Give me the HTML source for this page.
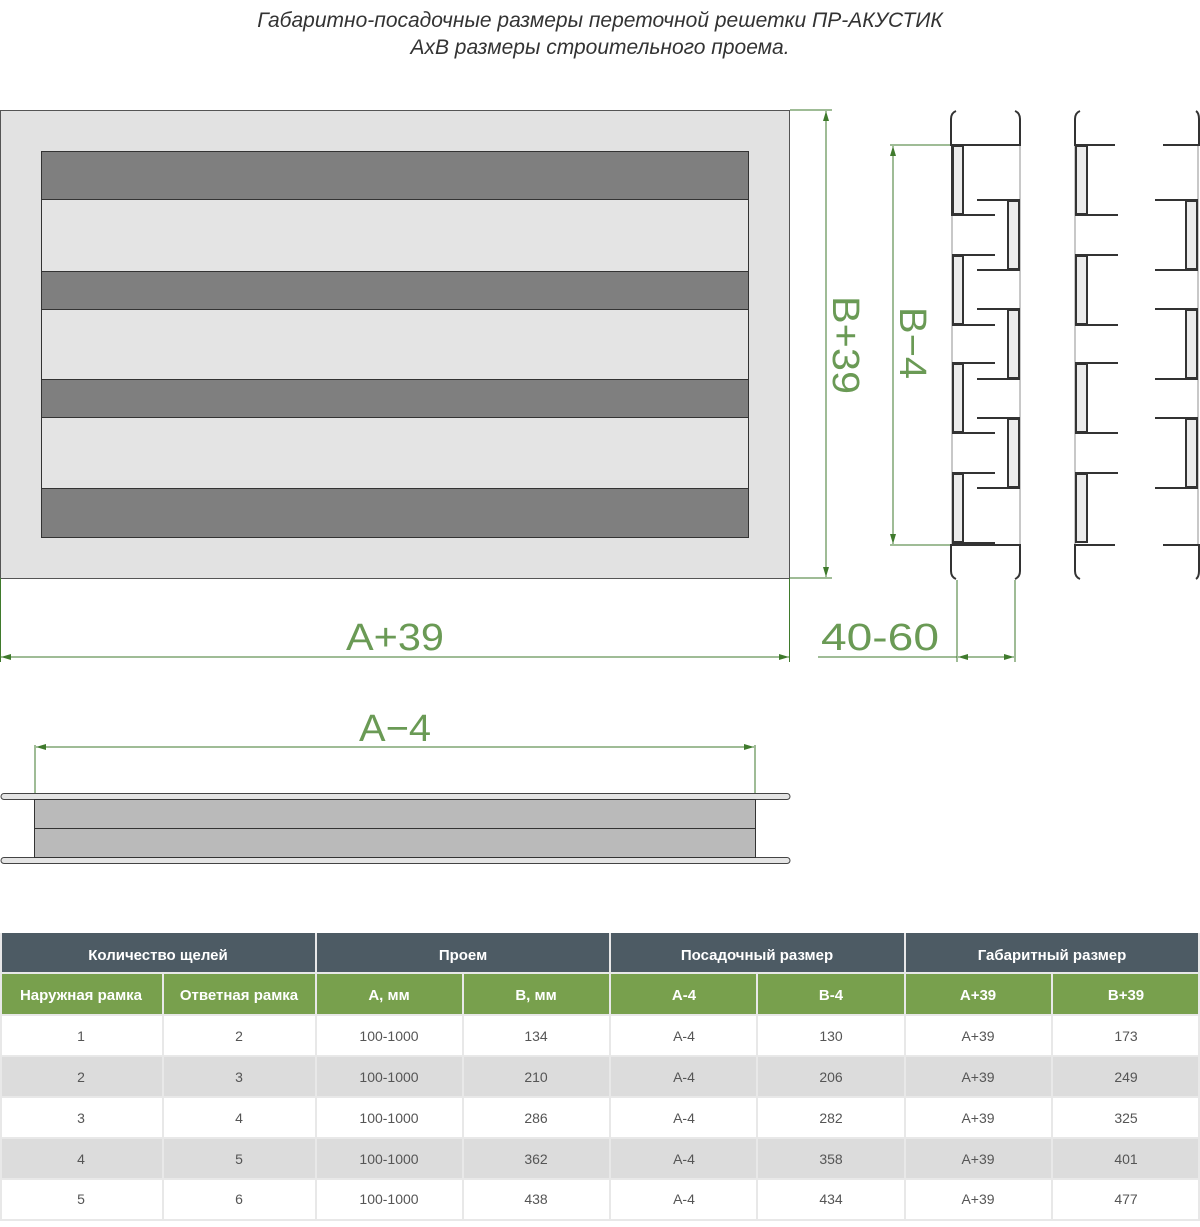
<!DOCTYPE html>
<html><head><meta charset="utf-8"><style>
html,body{margin:0;padding:0;background:#fff}
svg{display:block}
.t{font-family:"Liberation Sans","DejaVu Sans",sans-serif}
</style></head><body>
<svg width="1200" height="1227" viewBox="0 0 1200 1227" xmlns="http://www.w3.org/2000/svg">
<defs>
<marker id="ar" viewBox="0 0 10 6" refX="10" refY="3" markerWidth="14" markerHeight="6" orient="auto-start-reverse" markerUnits="userSpaceOnUse"><path d="M0,0 L10,3 L0,6z" fill="#3f7a2c"/></marker>
</defs>
<g class="t" font-style="italic" font-size="21" fill="#333" text-anchor="middle">
<text x="600" y="27">Габаритно-посадочные размеры переточной решетки ПР-АКУСТИК</text>
<text x="600" y="54">АхВ размеры строительного проема.</text>
</g>

<!-- front view -->
<rect x="0.5" y="110.5" width="789" height="468" fill="#e2e2e2" stroke="#555" stroke-width="1"/>
<rect x="41.5" y="151.5" width="707" height="386" fill="#e4e4e4" stroke="#333" stroke-width="1"/>
<g fill="#7f7f7f" stroke="#333" stroke-width="1">
<rect x="41.5" y="151.5" width="707" height="48"/>
<rect x="41.5" y="271.5" width="707" height="38"/>
<rect x="41.5" y="379.5" width="707" height="38"/>
<rect x="41.5" y="488.5" width="707" height="49"/>
</g>

<!-- dimensions -->
<g stroke="#3f7a2c" stroke-width="1" fill="none">
<line x1="790" y1="110" x2="832" y2="110"/><line x1="790" y1="578" x2="832" y2="578"/>
<line x1="826" y1="111" x2="826" y2="577" marker-start="url(#ar)" marker-end="url(#ar)"/>
<line x1="0.5" y1="578" x2="0.5" y2="662"/><line x1="789.5" y1="578" x2="789.5" y2="662"/>
<line x1="1" y1="657" x2="789" y2="657" marker-start="url(#ar)" marker-end="url(#ar)"/>
<line x1="818" y1="657" x2="957" y2="657"/>
<line x1="957" y1="580" x2="957" y2="662"/><line x1="1015" y1="580" x2="1015" y2="662"/>
<line x1="958" y1="657" x2="975" y2="657" marker-start="url(#ar)"/>
<line x1="975" y1="657" x2="1014" y2="657" marker-end="url(#ar)"/>
<line x1="890" y1="145" x2="950" y2="145"/><line x1="890" y1="545" x2="950" y2="545"/>
<line x1="893" y1="146" x2="893" y2="544" marker-start="url(#ar)" marker-end="url(#ar)"/>
<line x1="35" y1="745" x2="35" y2="800"/><line x1="755" y1="745" x2="755" y2="800"/>
<line x1="36" y1="747" x2="754" y2="747" marker-start="url(#ar)" marker-end="url(#ar)"/>
</g>
<g class="t" fill="#6a9a55" font-size="38" text-anchor="middle" font-weight="normal">
<text x="395" y="650" textLength="98" lengthAdjust="spacingAndGlyphs">A+39</text>
<text x="880" y="650" textLength="118" lengthAdjust="spacingAndGlyphs">40-60</text>
<text x="395" y="741" textLength="72" lengthAdjust="spacingAndGlyphs">A−4</text>
<text transform="translate(833,345) rotate(90)" textLength="98" lengthAdjust="spacingAndGlyphs">B+39</text>
<text transform="translate(900,343) rotate(90)" textLength="72" lengthAdjust="spacingAndGlyphs">B−4</text>
</g>

<!-- side cross section -->
<g stroke="#c8c8c8" stroke-width="2">
<line x1="952" y1="145" x2="952" y2="545"/><line x1="1020" y1="145" x2="1020" y2="545"/>
<line x1="1075" y1="145" x2="1075" y2="545"/><line x1="1198" y1="145" x2="1198" y2="545"/>
</g>
<g stroke="#333" stroke-width="2" fill="none">
<!-- caps -->
<path d="M956,111 q-5,2 -5,8 v26 h69 v-26 q0,-6 -5,-8"/>
<path d="M956,579 q-5,-2 -5,-8 v-26 h69 v26 q0,6 -5,8"/>
<path d="M1080,111 q-5,2 -5,8 v26 h40"/>
<path d="M1080,579 q-5,-2 -5,-8 v-26 h40"/>
<path d="M1196,111 q3,2 3,8 v26 h-36"/>
<path d="M1196,579 q3,-2 3,-8 v-26 h-36"/>
</g>
<g fill="#ececec" stroke="#333" stroke-width="2">
<!-- left piece left channels -->
<path d="M952,145 h43 M963,145 v70 M952,145 v70 h43" fill="none"/>
<rect x="953" y="146" width="10" height="68"/>
<rect x="953" y="256" width="10" height="68"/>
<rect x="953" y="364" width="10" height="68"/>
<rect x="953" y="474" width="10" height="68"/>
<rect x="1008" y="201" width="11" height="68"/>
<rect x="1008" y="310" width="11" height="68"/>
<rect x="1008" y="419" width="11" height="68"/>
<rect x="1076" y="146" width="11" height="68"/>
<rect x="1076" y="256" width="11" height="68"/>
<rect x="1076" y="364" width="11" height="68"/>
<rect x="1076" y="474" width="11" height="68"/>
<rect x="1186" y="201" width="11" height="68"/>
<rect x="1186" y="310" width="11" height="68"/>
<rect x="1186" y="419" width="11" height="68"/>
</g>
<g stroke="#333" stroke-width="2">
<!-- arms left piece -->
<line x1="952" y1="215" x2="995" y2="215"/>
<line x1="952" y1="255" x2="995" y2="255"/><line x1="952" y1="325" x2="995" y2="325"/>
<line x1="952" y1="363" x2="995" y2="363"/><line x1="952" y1="433" x2="995" y2="433"/>
<line x1="952" y1="473" x2="995" y2="473"/><line x1="952" y1="543" x2="995" y2="543"/>
<line x1="977" y1="200" x2="1020" y2="200"/><line x1="977" y1="270" x2="1020" y2="270"/>
<line x1="977" y1="309" x2="1020" y2="309"/><line x1="977" y1="379" x2="1020" y2="379"/>
<line x1="977" y1="418" x2="1020" y2="418"/><line x1="977" y1="488" x2="1020" y2="488"/>
<!-- middle -->
<line x1="1075" y1="215" x2="1118" y2="215"/>
<line x1="1075" y1="255" x2="1118" y2="255"/><line x1="1075" y1="325" x2="1118" y2="325"/>
<line x1="1075" y1="363" x2="1118" y2="363"/><line x1="1075" y1="433" x2="1118" y2="433"/>
<line x1="1075" y1="473" x2="1118" y2="473"/>
<!-- right -->
<line x1="1155" y1="200" x2="1198" y2="200"/><line x1="1155" y1="270" x2="1198" y2="270"/>
<line x1="1155" y1="309" x2="1198" y2="309"/><line x1="1155" y1="379" x2="1198" y2="379"/>
<line x1="1155" y1="418" x2="1198" y2="418"/><line x1="1155" y1="488" x2="1198" y2="488"/>
</g>

<!-- bottom view -->
<rect x="1" y="793.5" width="789" height="6" rx="3" fill="#e4e4e4" stroke="#444" stroke-width="1"/>
<rect x="1" y="857.5" width="789" height="6" rx="3" fill="#e4e4e4" stroke="#444" stroke-width="1"/>
<rect x="34.5" y="799.5" width="721" height="58" fill="#bababa" stroke="#333" stroke-width="1"/>
<line x1="34" y1="828.5" x2="756" y2="828.5" stroke="#333"/>

<!-- table -->
<g>
<rect x="0" y="933" width="1200" height="40" fill="#4d5b64"/>
<rect x="0" y="973" width="1200" height="42" fill="#78a04d"/>
<rect x="0" y="1015" width="1200" height="41" fill="#fff"/>
<rect x="0" y="1056" width="1200" height="41" fill="#dcdcdc"/>
<rect x="0" y="1097" width="1200" height="41" fill="#fff"/>
<rect x="0" y="1138" width="1200" height="41" fill="#dcdcdc"/>
<rect x="0" y="1179" width="1200" height="41" fill="#fff"/>
<g stroke="#e8e8e8" stroke-width="2">
<line x1="316" y1="933" x2="316" y2="1220"/><line x1="610" y1="933" x2="610" y2="1220"/><line x1="905" y1="933" x2="905" y2="1220"/>
<line x1="163" y1="973" x2="163" y2="1220"/><line x1="463" y1="973" x2="463" y2="1220"/><line x1="757" y1="973" x2="757" y2="1220"/><line x1="1052" y1="973" x2="1052" y2="1220"/>
<line x1="0" y1="973" x2="1200" y2="973"/><line x1="0" y1="1015" x2="1200" y2="1015"/>
<line x1="0" y1="1056" x2="1200" y2="1056"/><line x1="0" y1="1097" x2="1200" y2="1097"/><line x1="0" y1="1138" x2="1200" y2="1138"/><line x1="0" y1="1179" x2="1200" y2="1179"/>
<line x1="0" y1="1220" x2="1200" y2="1220"/><line x1="1" y1="933" x2="1" y2="1220"/><line x1="1199" y1="933" x2="1199" y2="1220"/>
</g>
<g class="t" fill="#fff" font-size="15" font-weight="bold" text-anchor="middle">
<text x="158" y="960">Количество щелей</text><text x="463" y="960">Проем</text><text x="757" y="960">Посадочный размер</text><text x="1052" y="960">Габаритный размер</text>
<text x="81" y="1000">Наружная рамка</text><text x="239" y="1000">Ответная рамка</text><text x="389" y="1000">А, мм</text><text x="536" y="1000">В, мм</text>
<text x="684" y="1000">А-4</text><text x="831" y="1000">В-4</text><text x="978" y="1000">А+39</text><text x="1126" y="1000">В+39</text>
</g>
<g class="t" fill="#555" font-size="14" text-anchor="middle">
<text x="81" y="1041">1</text><text x="239" y="1041">2</text><text x="389" y="1041">100-1000</text><text x="536" y="1041">134</text><text x="684" y="1041">А-4</text><text x="831" y="1041">130</text><text x="978" y="1041">А+39</text><text x="1126" y="1041">173</text>
<text x="81" y="1082">2</text><text x="239" y="1082">3</text><text x="389" y="1082">100-1000</text><text x="536" y="1082">210</text><text x="684" y="1082">А-4</text><text x="831" y="1082">206</text><text x="978" y="1082">А+39</text><text x="1126" y="1082">249</text>
<text x="81" y="1123">3</text><text x="239" y="1123">4</text><text x="389" y="1123">100-1000</text><text x="536" y="1123">286</text><text x="684" y="1123">А-4</text><text x="831" y="1123">282</text><text x="978" y="1123">А+39</text><text x="1126" y="1123">325</text>
<text x="81" y="1164">4</text><text x="239" y="1164">5</text><text x="389" y="1164">100-1000</text><text x="536" y="1164">362</text><text x="684" y="1164">А-4</text><text x="831" y="1164">358</text><text x="978" y="1164">А+39</text><text x="1126" y="1164">401</text>
<text x="81" y="1204">5</text><text x="239" y="1204">6</text><text x="389" y="1204">100-1000</text><text x="536" y="1204">438</text><text x="684" y="1204">А-4</text><text x="831" y="1204">434</text><text x="978" y="1204">А+39</text><text x="1126" y="1204">477</text>
</g>
</g>
</svg>
</body></html>
